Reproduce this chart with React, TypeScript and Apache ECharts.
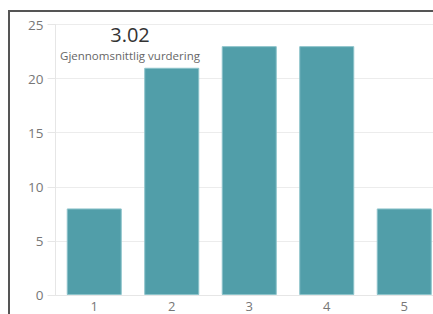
import React, { useEffect, useRef } from "react";
import * as echarts from "echarts";

const categories = ["1", "2", "3", "4", "5"];
const counts = [8, 21, 23, 23, 8];
const averageValue = "3.02";
const averageLabel = "Gjennomsnittlig vurdering";
const yTicks = { min: 0, max: 25, interval: 5 };

const FONT = "'Segoe UI', 'Open Sans', 'Noto Sans', sans-serif";

export default function App() {
  const ref = useRef<HTMLDivElement>(null);
  useEffect(() => {
    if (!ref.current) return;
    const chart = echarts.init(ref.current, undefined, { renderer: "svg" });
    chart.setOption({
      animation: false,
      grid: { left: 55.5, top: 24.5, right: 17, height: 270.5, containLabel: false },
      xAxis: {
        type: "category",
        data: categories,
        axisLine: { show: true, lineStyle: { color: "#e6e6e6", width: 1 } },
        axisTick: { show: false },
        axisLabel: { color: "#777", fontSize: 13, lineHeight: 13, fontFamily: FONT, margin: 4 },
        splitLine: { show: false },
      },
      yAxis: {
        type: "value",
        min: yTicks.min,
        max: yTicks.max,
        interval: yTicks.interval,
        axisLine: { show: true, lineStyle: { color: "#e6e6e6", width: 1 } },
        axisTick: { show: true, length: 8, lineStyle: { color: "#e6e6e6" } },
        axisLabel: { color: "#777", fontSize: 13.5, fontFamily: FONT, margin: 12 },
        splitLine: { show: true, lineStyle: { color: "#ececec", width: 1 } },
      },
      series: [
        {
          type: "bar",
          data: counts,
          barCategoryGap: "29%",
          itemStyle: { color: "#519ea9", borderColor: "#8cc3ca", borderWidth: 1 },
        },
      ],
      graphic: [
        {
          type: "group",
          z: 100,
          children: [
            {
              type: "rect",
              shape: { x: 57, y: 16, width: 146, height: 50 },
              style: { fill: "#ffffff" },
            },
            {
              type: "text",
              x: 130,
              y: 34,
              style: {
                text: averageValue,
                fontSize: 20,
                fontFamily: FONT,
                fill: "#333",
                align: "center",
                verticalAlign: "middle",
              },
            },
            {
              type: "text",
              x: 130,
              y: 55,
              style: {
                text: averageLabel,
                fontSize: 11.5,
                fontFamily: FONT,
                fill: "#666",
                align: "center",
                verticalAlign: "middle",
              },
            },
          ],
        },
      ],
    });
    return () => chart.dispose();
  }, []);

  return (
    <div style={{ position: "fixed", left: 0, top: 0, width: 433, height: 314, overflow: "hidden", background: "#fff" }}>
      <div
        style={{
          position: "absolute",
          left: 8,
          top: 10,
          width: 600,
          height: 600,
          border: "2px solid #555",
          boxSizing: "border-box",
        }}
      />
      <div ref={ref} style={{ position: "absolute", left: 0, top: 0, width: 460, height: 314 }} />
    </div>
  );
}
